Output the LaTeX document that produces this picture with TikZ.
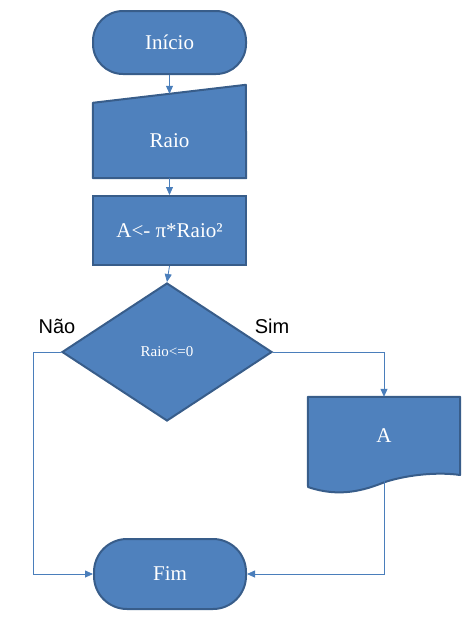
\documentclass[tikz,border=0pt]{standalone}
\usepackage{fontspec}
\setmainfont{Liberation Serif}
\newfontfamily\rotfont{Liberation Sans}
\usetikzlibrary{shapes.geometric,arrows.meta,backgrounds}
\definecolor{caixa}{HTML}{4F81BD}
\definecolor{borda}{HTML}{385D8A}
\definecolor{linha}{HTML}{4A7EBB}

\begin{document}
\begin{tikzpicture}[x=1pt,y=-1pt]
  \useasboundingbox (0,0) rectangle (474,622);

      \begin{scope}[every node/.style={text=white,inner sep=0pt,font=\fontsize{21}{24}\selectfont},
          terminal/.style={rectangle,rounded corners=30pt,fill=caixa,draw=borda,line width=2pt},
          processo/.style={rectangle,fill=caixa,draw=borda,line width=2pt}]
        \node[terminal,minimum width=153pt,minimum height=63pt] (inicio) at (169.5,42.5) {Início};
        \node[minimum width=153pt,minimum height=75pt] (raio) at (169.5,140.5) {Raio};
        \node[processo,minimum width=153pt,minimum height=69pt] (calc) at (169.5,230.5) {A<- π*Raio²};
        \node[diamond,fill=caixa,draw=borda,line width=2pt,minimum width=210pt,minimum height=138pt,
          font=\fontsize{15}{17}\selectfont] (dec) at (167,352) {Raio<=0};
        \node[minimum width=152pt,minimum height=78pt] (saida) at (384,436) {A};
        \node[terminal,rounded corners=33pt,minimum width=152pt,minimum height=70pt] (fim) at (170,574) {Fim};
      \end{scope}

      % formas de entrada e saida
      \begin{scope}[on background layer,forma/.style={fill=caixa,draw=borda,line width=2pt,line join=round}]
        \path[forma] (raio.south west) -- (raio.north west) -- ++(153,-18) -- (raio.south east) -- cycle;
        \path[forma] (saida.north west) -- (saida.north east) -- (460,475)
          .. controls (440,472) and (410,474) .. (385,482)
          .. controls (365,490) and (340,498) .. (308,487) -- cycle;
      \end{scope}

      \path (raio.north) ++(0,-9) coordinate (raio-topo);
      \path (saida.south) ++(0,6) coordinate (saida-fundo);

      \begin{scope}[every path/.style={draw=linha,line width=0.8pt,-{Triangle[length=8pt,width=7pt]}}]
        \draw (inicio.south) -- (raio-topo);
        \draw (raio.south) -- (calc.north);
        \draw (calc.south) -- (dec.north);
        \draw (dec.east) -| (saida.north);
        \draw (dec.west) -- ++(-28,0) |- (fim.west);
        \draw (saida-fundo) |- (fim.east);
      \end{scope}

      \node[font=\rotfont\fontsize{20}{23}\selectfont] (nao) at (57,326) {Não};
      \node[font=\rotfont\fontsize{20}{23}\selectfont] (sim) at (272,326) {Sim};

\end{tikzpicture}
\end{document}
